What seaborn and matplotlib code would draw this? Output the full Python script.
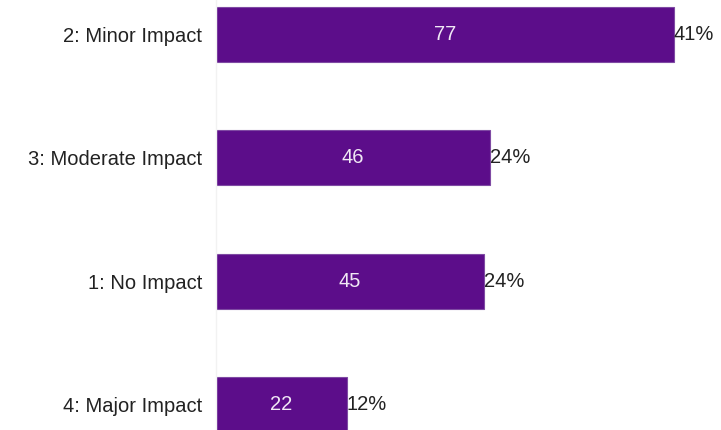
import matplotlib
matplotlib.use("Agg")
import matplotlib.pyplot as plt
import seaborn as sns
import pandas as pd

categories = ["2: Minor Impact", "3: Moderate Impact", "1: No Impact", "4: Major Impact"]
counts = [77, 46, 45, 22]
percent_labels = ["41%", "24%", "24%", "12%"]

sns.set_theme(style="white")
plt.rcParams["font.family"] = ["Liberation Sans", "DejaVu Sans"]

df = pd.DataFrame({"category": categories, "count": counts})

fig = plt.figure(figsize=(7.21, 4.30), dpi=100)
ax = fig.add_axes([216 / 721, 0, 1 - 216 / 721, 1])

sns.barplot(data=df, x="count", y="category", order=categories, color="#5c0d8a",
            saturation=1, width=0.446, edgecolor="#7f4aa3", linewidth=0.8, ax=ax)

ax.set_xlim(0, (721 - 216) / ((674 - 216) / 77))
ax.set_ylim(3 + 25.5 / 123.33, -34.5 / 123.33)

for i, (c, p) in enumerate(zip(counts, percent_labels)):
    ax.text(c / 2, i, str(c), ha="center", va="center", color="#f0e8f5", fontsize=14.5)
    ax.text(c, i, p, ha="left", va="center", color="#222222", fontsize=14.5)

ax.set_xlabel("")
ax.set_ylabel("")
ax.set_xticks([])
ax.tick_params(axis="y", length=0, pad=10, labelsize=14.5, labelcolor="#222222")
for s in ["top", "right", "bottom"]:
    ax.spines[s].set_visible(False)
ax.spines["left"].set_color("#f2f2f2")
ax.spines["left"].set_linewidth(1)

fig.savefig("out.png", dpi=100)
